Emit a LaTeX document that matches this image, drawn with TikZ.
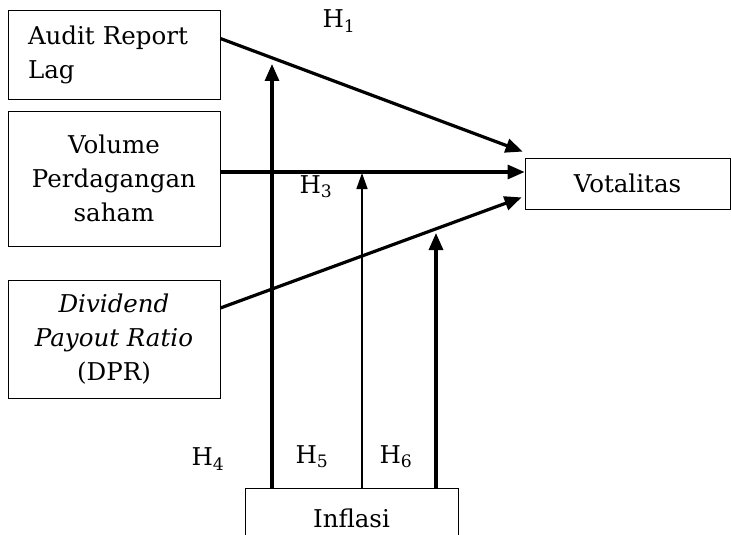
\documentclass[tikz,border=0pt]{standalone}
\usepackage{fontspec}
\setmainfont{DejaVu Serif}
\usepackage{tikz}
\usetikzlibrary{arrows.meta,positioning,calc}
\newcommand{\fs}{\fontsize{24.5}{34}\selectfont}
\tikzset{
  var/.style={draw, line width=0.8pt, inner sep=0pt, align=center, font=\fs},
  flow/.style={-{Triangle[length=17pt,width=14pt]}, line width=3.2pt},
  flowt/.style={-{Triangle[length=16pt,width=11pt]}, line width=1.6pt},
  hlab/.style={font=\fs},
}

\begin{document}
\begin{tikzpicture}[x=1pt,y=-1pt]
  \useasboundingbox (0,0) rectangle (731,535);
  \clip (0,0) rectangle (731,535);
  \node[var,minimum width=212pt,minimum height=89pt,text width=172pt,align=left](alag) at (114,54.5){Audit Report\\Lag};
  \node[var,minimum width=212pt,minimum height=135pt](vol) at (114,178.5){Volume\\Perdagangan\\saham};
  \node[var,minimum width=212pt,minimum height=118pt](dpr) at (114,339){\textit{Dividend}\\\textit{Payout Ratio}\\(DPR)};
  \node[var,minimum width=205pt,minimum height=51pt](vot) at (627.5,183.5){Votalitas};
  \node[var,minimum width=213pt,minimum height=60pt](infl) at (351.5,518){Inflasi};
  % direct effects
  \draw[flow]([yshift=16pt]alag.east) -- ([xshift=-2pt,yshift=6pt]vot.north west);
  \draw[flow]([yshift=6.5pt]vol.east) -- ([yshift=6.5pt]vol.east -| vot.west);
  \draw[flow]([yshift=31pt]dpr.east) -- ([xshift=-3pt,yshift=12pt]vot.south west);
  % moderation
  \coordinate (m4) at (272,64);
  \coordinate (m5) at (362,173);
  \coordinate (m6) at (436,233);
  \draw[flow](infl.north -| m4) -- (m4);
  \draw[flowt](infl.north -| m5) -- (m5);
  \draw[flow](infl.north -| m6) -- (m6);
  % labels
  \node[hlab](h1) at (339,21){H\textsubscript{1}};
  \node[hlab](h3) at (316,187){H\textsubscript{3}};
  \node[hlab](h4) at (208,459){H\textsubscript{4}};
  \node[hlab](h5) at (312,457){H\textsubscript{5}};
  \node[hlab](h6) at (396,457){H\textsubscript{6}};
\end{tikzpicture}
\end{document}
